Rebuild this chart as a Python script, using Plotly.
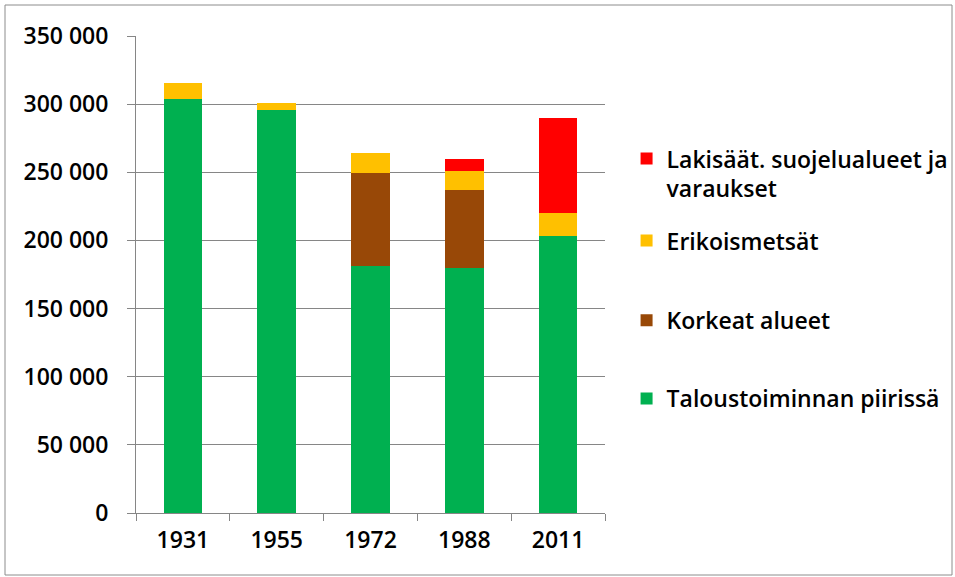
import plotly.graph_objects as go

# years on the x axis
years = ['1931', '1955', '1972', '1988', '2011']

# stacked series, bottom to top (hectares)
talous = [304000, 295500, 181500, 179500, 203000]
korkeat = [0, 0, 68000, 57500, 0]
erikois = [11500, 5000, 14500, 14000, 17000]
lakisaat = [0, 0, 0, 9000, 69500]

series = [
    ('Taloustoiminnan piirissä', talous, '#00B050'),
    ('Korkeat alueet', korkeat, '#984807'),
    ('Erikoismetsät', erikois, '#FFC000'),
    ('Lakisäät. suojelualueet ja<br>varaukset', lakisaat, '#FF0000'),
]

y_ticks = [0, 50000, 100000, 150000, 200000, 250000, 300000, 350000]
y_tick_text = ['0', '50 000', '100 000', '150 000', '200 000', '250 000', '300 000', '350 000']

txt = dict(family='Open Sans', size=23, color='black', weight=600)

# one small legend per series so the spacing can follow the original
legend_names = ['legend4', 'legend3', 'legend2', 'legend']
legend_tops = [0.285, 0.449, 0.616, 0.788]

fig = go.Figure()
for i, (name, vals, col) in enumerate(series):
    fig.add_trace(go.Bar(
        x=years, y=vals, name=name,
        marker=dict(color=col, line=dict(width=0)),
        legend=legend_names[i],
        showlegend=True,
    ))

legends = {}
for lname, ytop in zip(legend_names, legend_tops):
    legends[lname] = dict(
        x=1.046, y=ytop, xanchor='left', yanchor='top',
        valign='top', font=txt, itemwidth=30,
        bgcolor='rgba(0,0,0,0)',
    )

fig.update_layout(
    barmode='stack',
    bargap=0.59,
    showlegend=True,
    width=955, height=577,
    paper_bgcolor='white',
    plot_bgcolor='white',
    margin=dict(l=136, r=350, t=36, b=64, autoexpand=False),
    font=txt,
    xaxis=dict(
        showline=True, linecolor='#868686', linewidth=1,
        ticks='outside', tickson='boundaries', ticklen=7, tickcolor='#868686',
        tickfont=txt, ticklabelstandoff=6,
    ),
    yaxis=dict(
        range=[0, 350000],
        tickvals=y_ticks, ticktext=y_tick_text,
        showline=True, linecolor='#868686', linewidth=1,
        ticks='outside', ticklen=8, tickcolor='#868686',
        showgrid=True, gridcolor='#868686', gridwidth=1,
        zeroline=False,
        tickfont=txt, ticklabelstandoff=14,
    ),
    shapes=[dict(
        type='rect', xref='paper', yref='paper',
        x0=(5 - 136) / 469, x1=(952 - 136) / 469,
        y0=-(575 - 513) / 477, y1=(513 - 5) / 477,
        line=dict(color='#8c8c8c', width=1),
    )],
    **legends,
)

fig.write_html('out.html', config={'displayModeBar': False},
               post_script="document.body.style.margin='0';")
